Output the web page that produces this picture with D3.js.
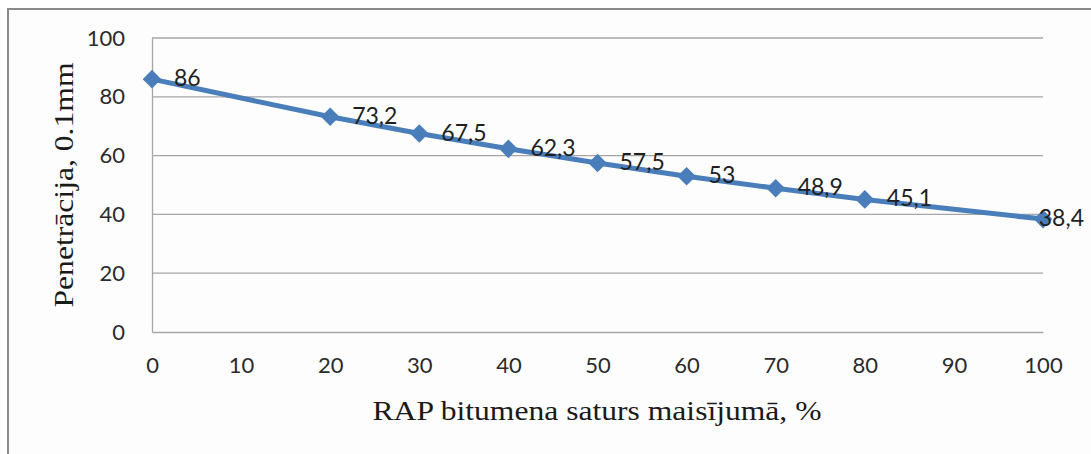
<!DOCTYPE html>
<html>
<head>
<meta charset="utf-8">
<script src="https://cdn.jsdelivr.net/npm/d3@7"></script>
<style>
  body { margin: 0; background: #fff; }
  svg { display: block; }
</style>
</head>
<body>
<svg></svg>
<script>
const width = 1091
const height = 454

// data
const rapShare = [0, 20, 30, 40, 50, 60, 70, 80, 100]
const penetration = [86, 73.2, 67.5, 62.3, 57.5, 53, 48.9, 45.1, 38.4]
const penLabels = ["86", "73,2", "67,5", "62,3", "57,5", "53", "48,9", "45,1", "38,4"]
const xTicks = [0, 10, 20, 30, 40, 50, 60, 70, 80, 90, 100]
const yTicks = [0, 20, 40, 60, 80, 100]

const svg = d3.select('svg')
  .attr('width', width)
  .attr('height', height)

// chart frame (right and bottom edges fall outside the picture)
svg.append("rect")
  .attr("x", 8).attr("y", 9)
  .attr("width", width + 10).attr("height", height + 10)
  .attr("fill", "#fdfdfd")
  .attr("stroke", "#8a8a8a")
  .attr("stroke-width", 2)

const x = d3.scaleLinear().domain([0, 100]).range([152, 1043])
const y = d3.scaleLinear().domain([0, 100]).range([332, 38])

// gridlines
svg.append("g")
  .selectAll("line")
  .data(yTicks.filter(d => d > 0))
  .enter()
  .append("line")
  .attr("x1", x(0)).attr("x2", x(100))
  .attr("y1", d => y(d)).attr("y2", d => y(d))
  .style("stroke", "#a6a6a6")
  .attr("stroke-width", 1.3)

// axes
const yAxis = svg.append("g")
  .attr("transform", `translate(${x(0)},0)`)
  .call(d3.axisLeft(y).tickValues(yTicks).tickSize(0).tickPadding(27))
yAxis.select(".domain").attr("stroke", "#a6a6a6").attr("stroke-width", 1.3)

const xAxis = svg.append("g")
  .attr("transform", `translate(0,${y(0)})`)
  .call(d3.axisBottom(x).tickValues(xTicks).tickSize(0).tickPadding(25))
xAxis.select(".domain").attr("stroke", "#a6a6a6").attr("stroke-width", 1.3)

svg.selectAll(".tick text")
  .attr("font-family", "Lato, 'Open Sans', sans-serif")
  .attr("font-size", 22)
  .attr("fill", "#2b2b2b")

// axis titles
svg.append("text")
  .attr("x", 597).attr("y", 420)
  .attr("text-anchor", "middle")
  .attr("font-family", "'Liberation Serif', serif")
  .attr("font-size", 27)
  .attr("textLength", 449)
  .attr("lengthAdjust", "spacingAndGlyphs")
  .attr("fill", "#1a1a1a")
  .text("RAP bitumena saturs maisījumā, %")

svg.append("text")
  .attr("transform", "translate(73,185) rotate(-90)")
  .attr("text-anchor", "middle")
  .attr("font-family", "'Liberation Serif', serif")
  .attr("font-size", 27)
  .attr("textLength", 245)
  .attr("lengthAdjust", "spacingAndGlyphs")
  .attr("fill", "#1a1a1a")
  .text("Penetrācija, 0.1mm")

// series
const points = rapShare.map((d, i) => ({ x: d, y: penetration[i], label: penLabels[i] }))

svg.append("path")
  .datum(points)
  .attr("fill", "none")
  .attr("stroke", "#4a7ebb")
  .attr("stroke-width", 5)
  .attr("d", d3.line().x(d => x(d.x)).y(d => y(d.y)))

svg.append("g")
  .selectAll("path")
  .data(points)
  .enter()
  .append("path")
  .attr("d", d3.symbol().type(d3.symbolDiamond2).size(220))
  .attr("transform", d => `translate(${x(d.x)},${y(d.y)})`)
  .attr("fill", "#4a7ebb")

// data labels; the last one is pushed back inside the frame
const lastIdx = points.length - 1
svg.append("g")
  .selectAll("text")
  .data(points)
  .enter()
  .append("text")
  .attr("x", (d, i) => i === lastIdx ? width - 7 : x(d.x) + 22)
  .attr("y", d => y(d.y) + 7)
  .attr("text-anchor", (d, i) => i === lastIdx ? "end" : "start")
  .attr("font-family", "Lato, 'Open Sans', sans-serif")
  .attr("font-size", 23)
  .attr("fill", "#1f1f1f")
  .text(d => d.label)
</script>
</body>
</html>
